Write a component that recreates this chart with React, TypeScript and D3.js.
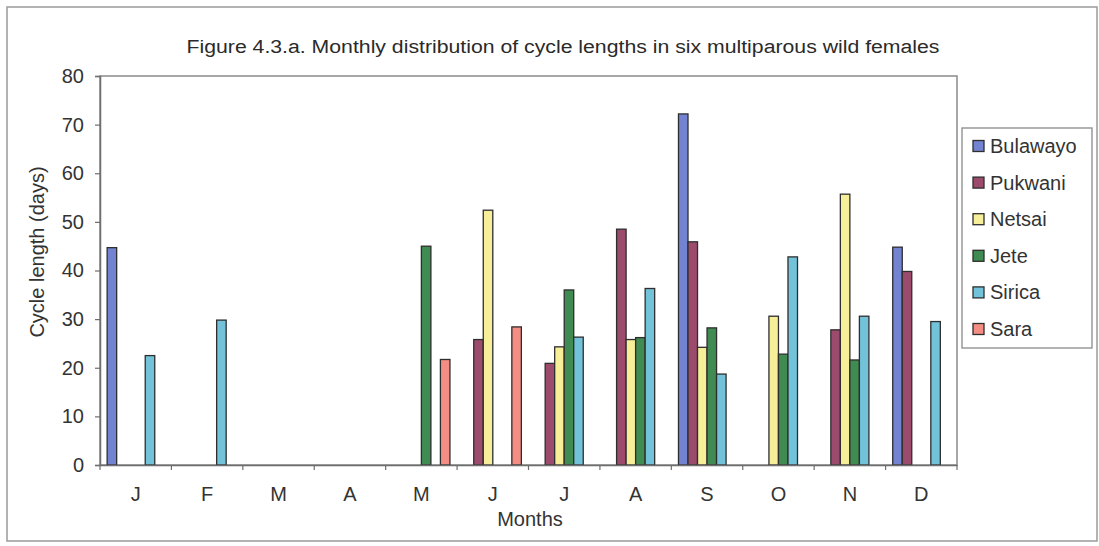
import React, { useEffect, useRef } from "react";
import * as d3 from "d3";

const months = ["J", "F", "M", "A", "M", "J", "J", "A", "S", "O", "N", "D"];
const seriesNames = ["Bulawayo", "Pukwani", "Netsai", "Jete", "Sirica", "Sara"];
const seriesColors = ["#7283d2", "#9c4b6c", "#f6ee98", "#3f8b52", "#72c2da", "#f48d84"];

// Cycle lengths (days) per month; null where no cycle was recorded
const bulawayo = [44.7, null, null, null, null, null, null, null, 72.2, null, null, 44.8];
const pukwani = [null, null, null, null, null, 25.8, 20.9, 48.5, 45.9, null, 27.8, 39.8];
const netsai = [null, null, null, null, null, 52.4, 24.3, 25.8, 24.2, 30.6, 55.7, null];
const jete = [null, null, null, null, 45.0, null, 36.0, 26.2, 28.2, 22.8, 21.6, null];
const sirica = [22.5, 29.8, null, null, null, null, 26.3, 36.3, 18.7, 42.8, 30.6, 29.5];
const sara = [null, null, null, null, 21.7, 28.4, null, null, null, null, null, null];

const yTicks = [0, 10, 20, 30, 40, 50, 60, 70, 80];

const W = 1099;
const H = 546;
const plot = { left: 100, right: 957, top: 76, bottom: 465 };
const font = "'Liberation Sans', Arial, sans-serif";
const textColor = "#333333";
const labelSize = 20;

export default function App() {
  const ref = useRef<SVGSVGElement | null>(null);

  useEffect(() => {
    const svg = d3.select(ref.current);
    svg.selectAll("*").remove();

    const series = [bulawayo, pukwani, netsai, jete, sirica, sara];

    const x = d3
      .scaleBand<number>()
      .domain(d3.range(months.length))
      .range([plot.left, plot.right]);
    // six bars per month with a 150% gap split over both sides
    const barW = x.bandwidth() / 7.5;
    const y = d3.scaleLinear().domain([0, 80]).range([plot.bottom, plot.top]);

    // outer chart frame
    svg
      .append("rect")
      .attr("x", 7)
      .attr("y", 7)
      .attr("width", 1090)
      .attr("height", 534)
      .attr("fill", "white")
      .attr("stroke", "#9a9a9a")
      .attr("stroke-width", 1.5);

    // plot area frame
    svg
      .append("rect")
      .attr("x", plot.left)
      .attr("y", plot.top)
      .attr("width", plot.right - plot.left)
      .attr("height", plot.bottom - plot.top)
      .attr("fill", "white")
      .attr("stroke", "#8a8a8a")
      .attr("stroke-width", 1.5);

    // title
    svg
      .append("text")
      .attr("x", 563)
      .attr("y", 53)
      .attr("text-anchor", "middle")
      .attr("font-family", font)
      .attr("font-size", 18)
      .attr("fill", "#2a2a2a")
      .attr("textLength", 753)
      .attr("lengthAdjust", "spacingAndGlyphs")
      .text("Figure 4.3.a. Monthly distribution of cycle lengths in six multiparous wild females");

    // bars
    series.forEach((vals, si) => {
      svg
        .append("g")
        .selectAll("rect")
        .data(vals.map((v, mi) => ({ v, mi })).filter((d) => d.v != null))
        .join("rect")
        .attr("x", (d) => (x(d.mi) as number) + 0.75 * barW + si * barW)
        .attr("y", (d) => y(d.v as number))
        .attr("width", barW)
        .attr("height", (d) => y(0) - y(d.v as number))
        .attr("fill", seriesColors[si])
        .attr("stroke", "#2e2e2e")
        .attr("stroke-width", 1.3);
    });

    // y axis
    const yAxis = svg
      .append("g")
      .attr("transform", `translate(${plot.left},0)`)
      .call(d3.axisLeft(y).tickValues(yTicks).tickSize(5).tickPadding(11));
    yAxis.select(".domain").attr("stroke", "#6e6e6e").attr("stroke-width", 1.5);
    yAxis.selectAll(".tick line").attr("stroke", "#6e6e6e").attr("stroke-width", 1.2);
    yAxis
      .selectAll(".tick text")
      .attr("font-family", font)
      .attr("font-size", labelSize)
      .attr("fill", textColor);

    // x axis
    const xAxis = svg
      .append("g")
      .attr("transform", `translate(0,${plot.bottom})`)
      .call(
        d3
          .axisBottom(x)
          .tickFormat((i) => months[i as number])
          .tickSize(0)
          .tickPadding(22)
      );
    xAxis.select(".domain").attr("stroke", "#6e6e6e").attr("stroke-width", 1.5);
    xAxis
      .selectAll(".tick text")
      .attr("font-family", font)
      .attr("font-size", labelSize)
      .attr("fill", textColor);
    // category boundary ticks
    svg
      .append("g")
      .selectAll("line")
      .data(d3.range(months.length + 1))
      .join("line")
      .attr("x1", (i) => plot.left + i * x.bandwidth())
      .attr("x2", (i) => plot.left + i * x.bandwidth())
      .attr("y1", plot.bottom)
      .attr("y2", plot.bottom + 5)
      .attr("stroke", "#6e6e6e")
      .attr("stroke-width", 1.2);

    // axis titles
    svg
      .append("text")
      .attr("x", 530)
      .attr("y", 526)
      .attr("text-anchor", "middle")
      .attr("font-family", font)
      .attr("font-size", labelSize)
      .attr("fill", textColor)
      .text("Months");
    svg
      .append("text")
      .attr("transform", `translate(44,${252}) rotate(-90)`)
      .attr("text-anchor", "middle")
      .attr("font-family", font)
      .attr("font-size", labelSize)
      .attr("fill", textColor)
      .text("Cycle length (days)");

    // legend
    const lg = svg.append("g").attr("transform", "translate(962,128)");
    lg.append("rect")
      .attr("width", 130)
      .attr("height", 220)
      .attr("fill", "white")
      .attr("stroke", "#8a8a8a")
      .attr("stroke-width", 1.3);
    seriesNames.forEach((name, i) => {
      const cy = 18 + i * 36.6;
      lg.append("rect")
        .attr("x", 11)
        .attr("y", cy - 5.5)
        .attr("width", 11)
        .attr("height", 11)
        .attr("fill", seriesColors[i])
        .attr("stroke", "#2e2e2e")
        .attr("stroke-width", 1.3);
      lg.append("text")
        .attr("x", 28)
        .attr("y", cy + 7)
        .attr("font-family", font)
        .attr("font-size", labelSize)
        .attr("fill", textColor)
        .text(name);
    });
  }, []);

  return (
    <svg
      ref={ref}
      width={W}
      height={H}
      style={{ position: "absolute", left: 0, top: 0, display: "block" }}
    />
  );
}
